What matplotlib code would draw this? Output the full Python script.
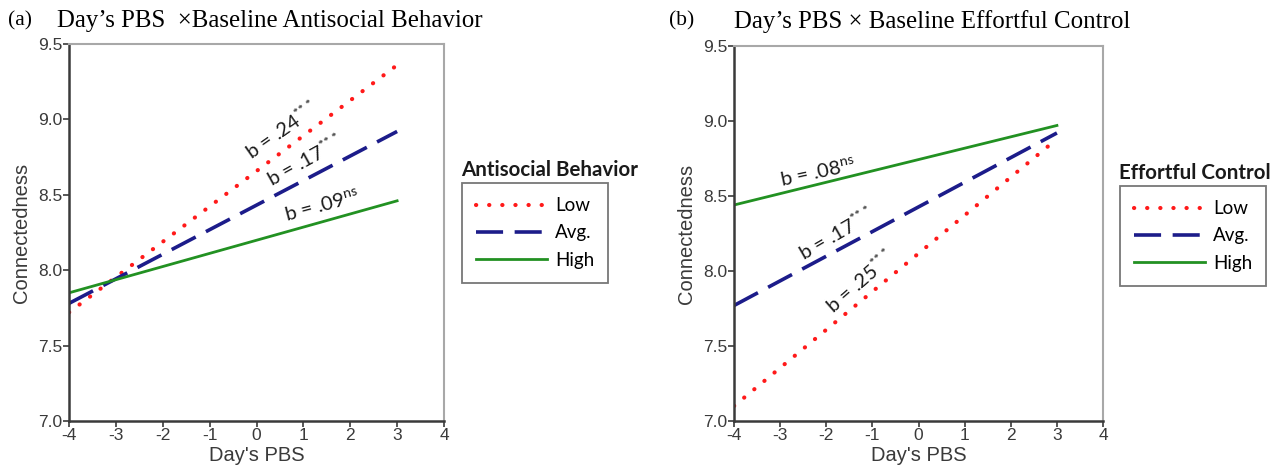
#!/usr/bin/env python
# Simple slopes: Day's PBS x baseline moderators on connectedness.

import matplotlib
matplotlib.use("Agg")
import matplotlib.pyplot as plt

# data (line end points at PBS = -4 and 3)
pbs = [-4, 3]
levels = ["Low", "Avg.", "High"]

anti_low = [7.72, 9.36]
anti_avg = [7.78, 8.92]
anti_high = [7.85, 8.46]

effort_low = [7.10, 8.88]
effort_avg = [7.77, 8.92]
effort_high = [8.44, 8.97]

stars = "$^{*\\!*\\!*}$"
ns = "$^{\\mathrm{ns}}$"
anti_slopes = ["b = .24" + stars, "b = .17" + stars, "b = .09" + ns]
effort_slopes = ["b = .25" + stars, "b = .17" + stars, "b = .08" + ns]

xticks = [-4, -3, -2, -1, 0, 1, 2, 3, 4]
yticks = [7.0, 7.5, 8.0, 8.5, 9.0, 9.5]

plt.rcParams["font.family"] = ["Liberation Sans", "DejaVu Sans"]
plt.rcParams["axes.unicode_minus"] = False
plt.rcParams["mathtext.fontset"] = "custom"
plt.rcParams["mathtext.rm"] = "Lato"
plt.rcParams["mathtext.it"] = "Lato:italic"

styles = [
    dict(color="#ff1a1a", lw=3.0, ls=(0, (0.05, 3.1)), dash_capstyle="round"),
    dict(color="#1c1c8a", lw=2.6, ls=(0, (7.5, 3.2))),
    dict(color="#229122", lw=2.0, ls="-"),
]


def style_axes(ax):
    ax.set_xlim(-4, 4)
    ax.set_ylim(7.0, 9.5)
    ax.set_xticks(xticks)
    ax.set_yticks(yticks)
    ax.set_yticklabels(["%.1f" % v for v in yticks])
    for s in ("left", "bottom"):
        ax.spines[s].set_color("#3a3a3a")
        ax.spines[s].set_linewidth(1.8)
    for s in ("top", "right"):
        ax.spines[s].set_color("#a8a8a8")
        ax.spines[s].set_linewidth(1.5)
    ax.tick_params(direction="out", length=4, width=1.2, color="#3a3a3a",
                   labelsize=12.5, labelcolor="#3a3a3a", pad=1)
    ax.set_xlabel("Day's PBS", fontsize=14.5, color="#3a3a3a", labelpad=2)
    ax.set_ylabel("Connectedness", fontsize=14.5, color="#3a3a3a", labelpad=5)


fig = plt.figure(figsize=(12.88, 4.74), dpi=100)
axa = fig.add_axes([0.0536, 0.1118, 0.2911, 0.7954])
axb = fig.add_axes([0.5699, 0.1118, 0.2865, 0.7912])

for ax, series, labels, notes, ltitle, lpos in [
    (axa, [anti_low, anti_avg, anti_high], anti_slopes,
     [(0.54, 8.93, 35), (1.03, 8.73, 29), (1.39, 8.43, 15)],
     "Antisocial Behavior", (462, 183)),
    (axb, [effort_low, effort_avg, effort_high], effort_slopes,
     [(-1.27, 7.93, 41), (-1.79, 8.25, 30), (-2.18, 8.66, 12)],
     "Effortful Control", (1120, 186)),
]:
    handles = []
    for vals, st, lab in zip(series, styles, levels):
        h, = ax.plot(pbs, vals, label=lab, **st)
        handles.append(h)
    for txt, (x, y, rot) in zip(labels, notes):
        ax.text(x, y, txt, rotation=rot, ha="center", va="center",
                fontsize=14.5, family="Lato", color="#1a1a1a",
                rotation_mode="anchor")
    style_axes(ax)

    # legend title sits above the box, as in the original
    left, top = lpos
    fig.text(left / 1288 - 0.001, 1 - (top - 3) / 474, ltitle, fontsize=14.8,
             family="Lato", fontweight="bold", color="#1a1a1a", va="bottom")
    leg = fig.legend(handles=handles, loc="upper left",
                     bbox_to_anchor=(left / 1288, 1 - top / 474),
                     prop=dict(family="Lato", size=13.5), frameon=True,
                     fancybox=False, handlelength=3.8, borderpad=0.75,
                     labelspacing=0.55, handletextpad=0.4, borderaxespad=0)
    leg.get_frame().set_edgecolor("#555555")
    leg.get_frame().set_linewidth(1.3)

fig.text(0.006, 0.955, "(a)", fontsize=15.5, family="Liberation Serif", va="center")
fig.text(0.044, 0.955, "Day\u2019s PBS  \u00d7Baseline Antisocial Behavior",
         fontsize=17.9, family="Liberation Serif", va="center")
fig.text(0.5195, 0.955, "(b)", fontsize=15.5, family="Liberation Serif", va="center")
fig.text(0.5695, 0.955, "Day\u2019s PBS \u00d7 Baseline Effortful Control",
         fontsize=17.9, family="Liberation Serif", va="center")

fig.savefig("out.png", dpi=100)
